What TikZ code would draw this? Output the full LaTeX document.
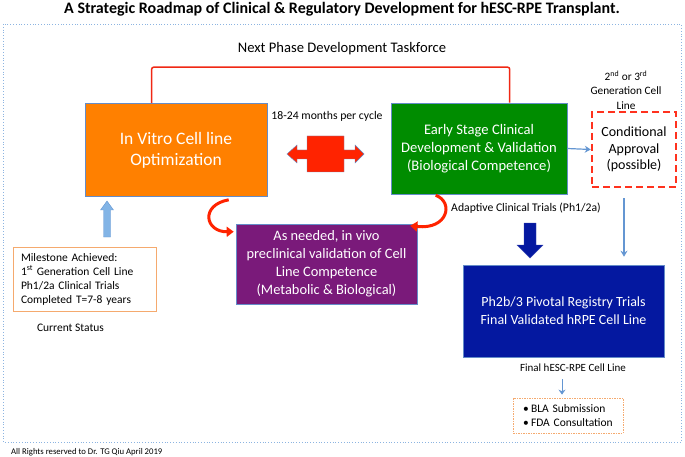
\documentclass[tikz,border=0pt]{standalone}
\usepackage{fontspec}
\setmainfont{Carlito}
\usetikzlibrary{arrows.meta,calc}
\definecolor{orangeF}{RGB}{255,128,0}
\definecolor{greenF}{RGB}{0,140,0}
\definecolor{purpleF}{RGB}{122,26,122}
\definecolor{navyF}{RGB}{4,24,160}
\definecolor{redF}{RGB}{255,35,0}
\definecolor{bracketR}{RGB}{240,40,20}
\definecolor{edgeB}{RGB}{100,140,200}
\definecolor{arrB}{RGB}{100,150,210}
\definecolor{lightB}{RGB}{130,180,230}
\definecolor{frameB}{RGB}{140,180,225}
\definecolor{milestoneO}{RGB}{245,170,110}
\definecolor{dashR}{RGB}{255,50,30}
\tikzset{
  box/.style={draw=edgeB, line width=0.6pt, text=white, align=center, inner sep=0pt},
  lbl/.style={inner sep=0pt, align=center},
  bluearr/.style={draw=arrB, line width=1.2pt, -{Stealth[length=6pt,width=7pt]}},
  redcurve/.style={draw=redF, line width=3pt, -{Triangle[length=7pt,width=10pt]}},
  bracket/.style={draw=bracketR, line width=1.5pt, rounded corners=2pt},
}
\begin{document}
\begin{tikzpicture}[x=1pt,y=-1pt]
\useasboundingbox (0,0) rectangle (685,457);
% frame
\draw[frameB, dotted, line width=0.8pt] (3,24) rectangle (681,442);
% title
\node[lbl, font=\bfseries\fontsize{16}{18}\selectfont] (title) at (342,9) {A Strategic Roadmap of Clinical \& Regulatory Development for hESC-RPE Transplant.};
\node[lbl, font=\fontsize{14.6}{17}\selectfont] (task) at (342,49) {Next Phase Development Taskforce};

% main boxes
\node[box, fill=orangeF, minimum width=182pt, minimum height=93pt, font=\fontsize{17.5}{21}\selectfont] (orange) at (176,150) {In Vitro Cell line\\Optimization};
\node[box, fill=greenF, minimum width=176pt, minimum height=91pt, font=\fontsize{14.6}{18}\selectfont] (green) at (479,148.5) {Early Stage Clinical\\Development \& Validation\\(Biological Competence)};
\node[draw=dashR, fill=white, line width=2.5pt, dash pattern=on 7pt off 4pt, minimum width=84pt, minimum height=75pt, inner sep=0pt, align=center, font=\fontsize{14}{16.5}\selectfont] (cond) at (634,149.5) {Conditional\\Approval\\(possible)};
\node[box, fill=purpleF, minimum width=181pt, minimum height=80pt, font=\fontsize{14.4}{18}\selectfont] (purple) at (326.5,264) {As needed, in vivo\\preclinical validation of Cell\\Line Competence\\(Metabolic \& Biological)};
\node[box, fill=navyF, minimum width=201pt, minimum height=92pt, font=\fontsize{14}{18}\selectfont] (db) at (563.5,311) {Ph2b/3 Pivotal Registry Trials\\Final Validated hRPE Cell Line};
\node[draw=milestoneO, line width=0.8pt, inner xsep=8pt, inner ysep=0pt, text width=127pt, minimum height=64pt, align=left, font=\fontsize{11.5}{14}\selectfont] (mile) at (84.5,279) {Milestone Achieved:\\1\textsuperscript{st} Generation Cell Line\\Ph1/2a Clinical Trials\\Completed T=7-8 years};
\node[draw=milestoneO, line width=0.8pt, dash pattern=on 1.5pt off 1pt, inner xsep=10pt, inner ysep=0pt, text width=90pt, minimum height=35pt, align=left, font=\fontsize{11.5}{14}\selectfont] (bla) at (568,415.5) {\makebox[8pt][l]{\textbullet}BLA Submission\\\makebox[8pt][l]{\textbullet}FDA Consultation};

% labels
\node[lbl, font=\fontsize{11.3}{14.5}\selectfont] (gen) at (626,90) {2\textsuperscript{nd} or 3\textsuperscript{rd}\\Generation Cell\\Line};
\node[lbl, font=\fontsize{11.7}{13}\selectfont] (cycle) at (327,116) {18-24 months per cycle};
\node[lbl, font=\fontsize{11.7}{13}\selectfont] (adapt) at (526,208) {Adaptive Clinical Trials (Ph1/2a)};
\node[lbl, font=\fontsize{11}{13}\selectfont] (final) at (573,368) {Final hESC-RPE Cell Line};
\node[lbl, font=\fontsize{11.5}{13}\selectfont] (status) at (70.5,328) {Current Status};
\node[lbl, anchor=west, font=\fontsize{8.7}{10}\selectfont] (rights) at (11,452) {All Rights reserved to Dr. TG Qiu April 2019};

% bracket
\coordinate (bl) at ($(orange.north west)+(67,0)$);
\coordinate (br) at ($(green.north west)+(119,0)$);
\draw[bracket] (bl) -- ++(0,-36) -| (br);

% red double arrow
\draw[fill=redF, draw=edgeB, line width=0.4pt] (287,154) -- (297,145) -- (297,150) -- (307,150) -- (307,136) -- (344,136) -- (344,150) -- (355,150) -- (355,145) -- (364,154) -- (355,163) -- (355,159) -- (344,159) -- (344,172) -- (307,172) -- (307,159) -- (297,159) -- (297,163) -- cycle;

% blue arrows
\draw[bluearr] (green.east) -- (cond.west);
\coordinate (c1) at ($(cond.south)+(-10,10)$);
\coordinate (c2) at (c1 |- db.north);
\draw[bluearr, shorten >=8pt] (c1) -- (c2);
\coordinate (f1) at ($(final.south)+(-11,7)$);
\coordinate (f2) at (f1 |- bla.north);
\draw[bluearr, line width=1pt, -{Stealth[length=5pt,width=7pt]}, shorten >=3pt] (f1) -- (f2);

% big dark blue down arrow
\draw[fill=navyF, draw=navyF!80!white, line width=0.4pt] (524,223) -- (536,223) -- (536,245) -- (543,245) -- (530,258) -- (517,245) -- (524,245) -- cycle;

% light blue up arrow
\draw[fill=lightB, draw=arrB, line width=0.4pt] (107,201) -- (113.5,210) -- (110.5,210) -- (110.5,237) -- (103.5,237) -- (103.5,210) -- (100.5,210) -- cycle;

% red curved arrows
\draw[redcurve] ($(orange.south west)+(144,3)$) .. controls (200,205) and (205,232) .. ($(purple.north west)+(-2,8)$);
\draw[redcurve] ($(green.south west)+(45,1)$) .. controls (454,202) and (448,230) .. ($(purple.north east)+(-7,2)$);
\end{tikzpicture}
\end{document}
